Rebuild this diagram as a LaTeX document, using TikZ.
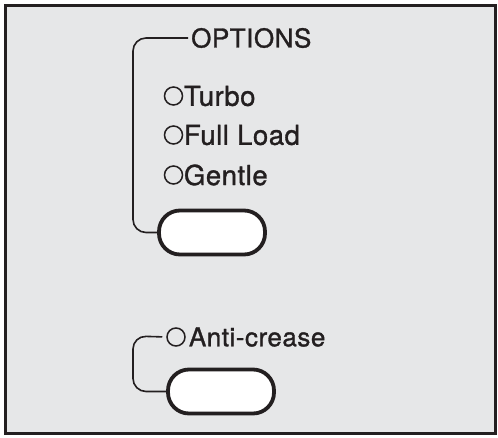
\documentclass[tikz,border=0pt]{standalone}
\usepackage{fontspec}
\setmainfont{TeX Gyre Heros}[FakeBold=1.2,LetterSpace=2]
\definecolor{panel}{HTML}{E6E7E8}
\definecolor{ink}{HTML}{231F20}
\begin{document}
\begin{tikzpicture}[x=1pt,y=-1pt,
  lbl/.style={anchor=west,inner sep=0pt,text=ink,font=\fontsize{27.5}{30}\selectfont},
  radio/.style={circle,draw=ink,line width=1.5pt,minimum size=18pt,inner sep=0pt},
  btn/.style={draw=ink,fill=white,line width=3.8pt,rounded corners=21pt,minimum width=106pt,minimum height=44pt,inner sep=0pt},
  brk/.style={draw=ink,line width=1.6pt,rounded corners=13pt}]
\useasboundingbox (0,0) rectangle (498,437);
\draw[ink,fill=panel,line width=3pt] (5,5.5) rectangle (495.5,433.5);
% upper group
\node[lbl,font=\fontsize{26}{30}\selectfont] (opt) at (191,38) {OPTIONS};
\node[radio] (r1) at (173.5,96) {};
\node[radio] (r2) at (173.5,135) {};
\node[radio] (r3) at (173.5,175) {};
\node[lbl] (t1) at (r1.east) [xshift=0.5pt] {Turbo};
\node[lbl] (t2) at (r2.east) [xshift=0.5pt] {Full Load};
\node[lbl] (t3) at (r3.east) [xshift=0.5pt] {Gentle};
\node[btn] (b1) at (212,232.5) {};
\coordinate (c1) at (133,38);
\draw[brk] ([xshift=-3pt]opt.west) -- (c1) |- (b1.west);
% lower group
\node[radio] (r4) at (176,337) {};
\node[lbl,font=\fontsize{26}{29}\selectfont] (t4) at (r4.east) [xshift=3pt] {Anti-crease};
\node[btn] (b2) at (221,391.5) {};
\coordinate (c2) at (133,336);
\draw[brk,shorten <=4pt] (r4.west) -- (c2) |- (b2.west);
\end{tikzpicture}
\end{document}
